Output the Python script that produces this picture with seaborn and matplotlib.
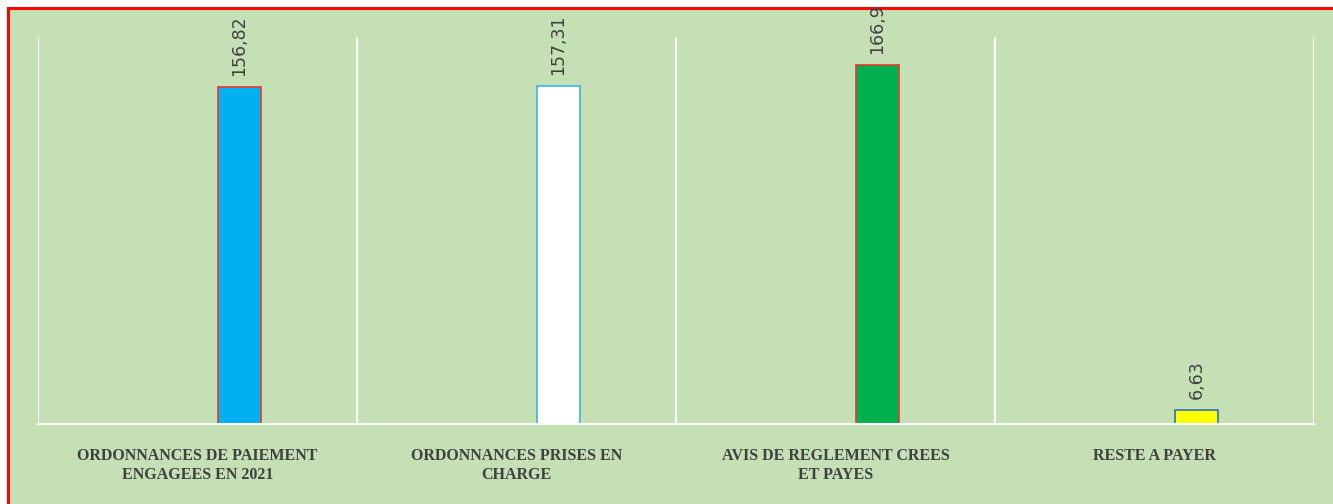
import pandas as pd
import matplotlib.pyplot as plt
import matplotlib.patches as mpatches
import seaborn as sns

# Données
categories = ['ORDONNANCES DE PAIEMENT\nENGAGEES EN 2021',
              'ORDONNANCES PRISES EN\nCHARGE',
              'AVIS DE REGLEMENT CREES\nET PAYES',
              'RESTE A PAYER']
valeurs = [156.82, 157.31, 166.9, 6.63]
etiquettes = ['156,82', '157,31', '166,9', '6,63']
couleurs = ['#00B0F0', '#FFFFFF', '#00B050', '#FFFF00']
bordures = ['#E8382B', '#3CB4E6', '#E8382B', '#2E75B6']

vert = '#C5E0B4'

sns.set_theme(style='white')
plt.rcParams['font.family'] = ['DejaVu Sans']

fig = plt.figure(figsize=(13.33, 5.04), dpi=100)
fig.patch.set_facecolor('white')

# Cadre vert avec bordure rouge
cadre = mpatches.Rectangle((8 / 1333, -0.01), 1.0, 1 - 8 / 504 + 0.01,
                           transform=fig.transFigure, facecolor=vert,
                           edgecolor='#FF0000', linewidth=2.2, zorder=-1)
fig.add_artist(cadre)

ax = fig.add_axes([38 / 1333, 1 - 424 / 504, (1314 - 38) / 1333, (424 - 37) / 504])
ax.set_zorder(2)
ax.set_facecolor(vert)

df = pd.DataFrame({'Categorie': categories, 'Valeur': valeurs})
sns.barplot(data=df, x='Categorie', y='Valeur', ax=ax, width=0.135,
            color='white', saturation=1)

# Décalage des barres vers la droite (comme dans l'original)
decalage = 0.132
for p, c, b in zip(ax.patches, couleurs, bordures):
    p.set_x(p.get_x() + decalage)
    p.set_facecolor(c)
    p.set_edgecolor(b)
    p.set_linewidth(1.2)

for i, (v, txt) in enumerate(zip(valeurs, etiquettes)):
    ax.annotate(txt, (i + decalage, v), xytext=(0, 8), textcoords='offset points',
                rotation=90, ha='center', va='bottom', fontsize=12.5,
                color='#404040', annotation_clip=False)

ax.set_xlim(-0.5, 3.5)
ax.set_ylim(0, 180)

# Séparateurs verticaux blancs
for xv in [-0.5, 0.5, 1.5, 2.5, 3.5]:
    ax.axvline(xv, color='white', linewidth=1.5, zorder=0.5)

for s in ['top', 'right', 'left']:
    ax.spines[s].set_visible(False)
ax.spines['bottom'].set_color('white')
ax.spines['bottom'].set_linewidth(1.5)

ax.set_yticks([])
ax.set_xlabel('')
ax.set_ylabel('')
ax.tick_params(axis='x', length=0, pad=17)
for lab in ax.get_xticklabels():
    lab.set_fontfamily('Liberation Serif')
    lab.set_fontweight('bold')
    lab.set_fontsize(11.5)
    lab.set_color('#404040')
    lab.set_linespacing(1.3)

fig.savefig('out.png', dpi=100, facecolor=fig.get_facecolor())
